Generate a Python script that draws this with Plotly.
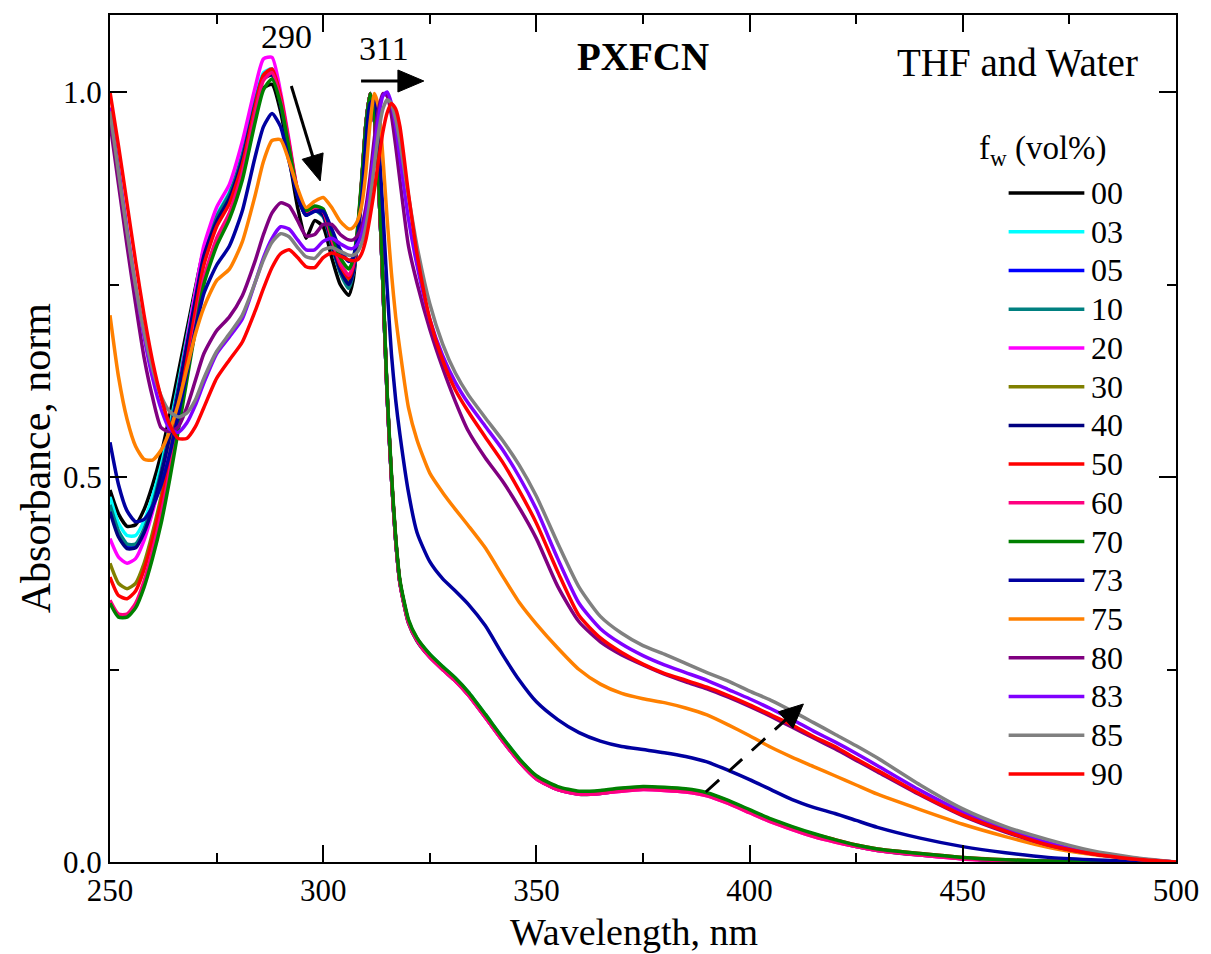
import plotly.graph_objects as go

# ---------------- data ----------------
wavelength = [250, 252, 254, 256, 258, 260, 262, 264, 266, 268, 270, 272, 275, 278, 281, 284, 286, 288,
              290, 292, 294, 296, 298, 300, 302, 304, 306, 307, 308, 309, 310, 311, 312, 313, 314, 315,
              316, 317, 318, 320, 322, 325, 328, 331, 334, 338, 342, 346, 350, 355, 360, 365, 370, 375,
              380, 385, 390, 395, 400, 405, 410, 415, 420, 425, 430, 440, 450, 460, 470, 480, 490, 500]

fw_labels = ["00", "03", "05", "10", "20", "30", "40", "50", "60", "70", "73", "75", "80", "83", "85", "90"]
fw_colors = ["#000000", "#00FFFF", "#0000FF", "#008080", "#FF00FF", "#808000", "#000080", "#FF0000",
             "#FF0080", "#008000", "#0000A0", "#FF8000", "#800080", "#8000FF", "#808080", "#FF0000"]

abs_00 = [0.483, 0.452, 0.436, 0.438, 0.458, 0.490, 0.530, 0.580, 0.635, 0.690, 0.745, 0.795, 0.835, 0.865, 0.910, 0.975, 1.005, 1.010, 0.975, 0.915, 0.850, 0.810, 0.833, 0.825, 0.785, 0.750, 0.736,
          0.755, 0.805, 0.875, 0.955, 0.998, 0.965, 0.880, 0.750, 0.605, 0.500, 0.418, 0.362, 0.310, 0.287, 0.266, 0.250, 0.235, 0.217, 0.188, 0.158, 0.130, 0.108, 0.094, 0.088, 0.089, 0.093, 0.095, 0.094, 0.092, 0.087, 0.077, 0.065, 0.053, 0.043, 0.034, 0.027, 0.020, 0.015, 0.009, 0.005, 0.002, 0.001, 0.0005, 0.0002, 0.0]
abs_03 = [0.474, 0.440, 0.424, 0.424, 0.443, 0.475, 0.515, 0.565, 0.620, 0.680, 0.740, 0.795, 0.840, 0.870, 0.920, 0.990, 1.025, 1.030, 0.990, 0.930, 0.870, 0.842, 0.848, 0.840, 0.805, 0.770, 0.750,
          0.765, 0.810, 0.880, 0.957, 0.998, 0.965, 0.880, 0.750, 0.605, 0.500, 0.418, 0.363, 0.313, 0.290, 0.270, 0.254, 0.239, 0.221, 0.192, 0.162, 0.134, 0.111, 0.097, 0.091, 0.092, 0.095, 0.097, 0.096, 0.094, 0.089, 0.079, 0.067, 0.055, 0.045, 0.036, 0.028, 0.021, 0.016, 0.010, 0.005, 0.002, 0.001, 0.0005, 0.0002, 0.0]
abs_05 = [0.458, 0.425, 0.410, 0.410, 0.430, 0.462, 0.505, 0.555, 0.612, 0.672, 0.733, 0.790, 0.835, 0.865, 0.915, 0.985, 1.020, 1.025, 0.985, 0.925, 0.865, 0.840, 0.847, 0.840, 0.803, 0.768, 0.750,
          0.765, 0.810, 0.880, 0.957, 0.998, 0.965, 0.880, 0.750, 0.605, 0.500, 0.418, 0.363, 0.312, 0.289, 0.268, 0.252, 0.237, 0.219, 0.190, 0.160, 0.132, 0.110, 0.096, 0.090, 0.091, 0.094, 0.096, 0.095, 0.093, 0.088, 0.078, 0.066, 0.054, 0.044, 0.035, 0.028, 0.021, 0.016, 0.010, 0.005, 0.002, 0.001, 0.0005, 0.0002, 0.0]
abs_10 = [0.464, 0.430, 0.413, 0.413, 0.433, 0.465, 0.508, 0.558, 0.615, 0.675, 0.736, 0.792, 0.838, 0.868, 0.918, 0.988, 1.022, 1.027, 0.987, 0.927, 0.867, 0.840, 0.846, 0.838, 0.800, 0.765, 0.745,
          0.763, 0.808, 0.879, 0.957, 0.998, 0.965, 0.880, 0.750, 0.605, 0.500, 0.418, 0.363, 0.312, 0.289, 0.268, 0.252, 0.237, 0.219, 0.190, 0.160, 0.132, 0.110, 0.096, 0.090, 0.091, 0.094, 0.096, 0.095, 0.093, 0.088, 0.078, 0.066, 0.054, 0.044, 0.035, 0.028, 0.021, 0.016, 0.010, 0.005, 0.002, 0.001, 0.0005, 0.0002, 0.0]
abs_20 = [0.420, 0.396, 0.388, 0.394, 0.418, 0.455, 0.500, 0.552, 0.610, 0.675, 0.740, 0.800, 0.850, 0.880, 0.935, 1.005, 1.043, 1.045, 1.000, 0.937, 0.872, 0.845, 0.850, 0.842, 0.805, 0.770, 0.752,
          0.767, 0.811, 0.880, 0.957, 0.998, 0.965, 0.880, 0.750, 0.604, 0.499, 0.417, 0.362, 0.311, 0.288, 0.266, 0.250, 0.235, 0.217, 0.188, 0.158, 0.130, 0.108, 0.094, 0.088, 0.089, 0.092, 0.094, 0.093, 0.091, 0.086, 0.076, 0.064, 0.052, 0.042, 0.033, 0.026, 0.020, 0.015, 0.009, 0.004, 0.002, 0.001, 0.0005, 0.0002, 0.0]
abs_30 = [0.388, 0.362, 0.355, 0.362, 0.388, 0.428, 0.475, 0.530, 0.590, 0.655, 0.720, 0.780, 0.830, 0.860, 0.910, 0.980, 1.018, 1.025, 0.988, 0.928, 0.868, 0.843, 0.848, 0.842, 0.806, 0.772, 0.755,
          0.769, 0.812, 0.881, 0.957, 0.998, 0.965, 0.880, 0.750, 0.605, 0.500, 0.418, 0.363, 0.312, 0.289, 0.268, 0.252, 0.237, 0.219, 0.190, 0.160, 0.132, 0.110, 0.096, 0.090, 0.091, 0.094, 0.096, 0.095, 0.093, 0.088, 0.078, 0.066, 0.054, 0.044, 0.035, 0.028, 0.021, 0.016, 0.010, 0.005, 0.002, 0.001, 0.0005, 0.0002, 0.0]
abs_40 = [0.455, 0.422, 0.407, 0.408, 0.428, 0.460, 0.503, 0.553, 0.610, 0.670, 0.730, 0.787, 0.832, 0.862, 0.912, 0.982, 1.017, 1.022, 0.985, 0.925, 0.865, 0.840, 0.847, 0.840, 0.803, 0.768, 0.750,
          0.765, 0.810, 0.880, 0.957, 0.998, 0.965, 0.880, 0.750, 0.605, 0.500, 0.418, 0.363, 0.312, 0.289, 0.268, 0.252, 0.237, 0.219, 0.190, 0.160, 0.132, 0.110, 0.096, 0.090, 0.091, 0.094, 0.096, 0.095, 0.093, 0.088, 0.078, 0.066, 0.054, 0.044, 0.035, 0.028, 0.021, 0.016, 0.010, 0.005, 0.002, 0.001, 0.0005, 0.0002, 0.0]
abs_50 = [0.370, 0.346, 0.342, 0.352, 0.380, 0.420, 0.468, 0.523, 0.585, 0.650, 0.715, 0.775, 0.825, 0.855, 0.905, 0.980, 1.022, 1.030, 0.995, 0.933, 0.872, 0.845, 0.850, 0.845, 0.808, 0.775, 0.758,
          0.772, 0.815, 0.882, 0.958, 0.998, 0.966, 0.882, 0.752, 0.607, 0.502, 0.420, 0.364, 0.313, 0.290, 0.269, 0.253, 0.238, 0.220, 0.191, 0.161, 0.133, 0.111, 0.097, 0.091, 0.092, 0.095, 0.097, 0.096, 0.094, 0.089, 0.079, 0.067, 0.055, 0.045, 0.036, 0.029, 0.022, 0.017, 0.011, 0.006, 0.003, 0.001, 0.0005, 0.0002, 0.0]
abs_60 = [0.340, 0.322, 0.322, 0.336, 0.365, 0.405, 0.452, 0.507, 0.568, 0.633, 0.698, 0.758, 0.810, 0.843, 0.895, 0.972, 1.015, 1.025, 0.990, 0.930, 0.870, 0.845, 0.850, 0.845, 0.810, 0.778, 0.762,
          0.775, 0.817, 0.883, 0.958, 0.998, 0.966, 0.881, 0.751, 0.605, 0.499, 0.417, 0.362, 0.311, 0.288, 0.266, 0.250, 0.235, 0.217, 0.188, 0.158, 0.130, 0.108, 0.094, 0.088, 0.089, 0.092, 0.094, 0.093, 0.091, 0.086, 0.076, 0.064, 0.052, 0.042, 0.033, 0.026, 0.020, 0.015, 0.009, 0.004, 0.002, 0.001, 0.0005, 0.0002, 0.0]
abs_70 = [0.336, 0.318, 0.318, 0.330, 0.357, 0.395, 0.440, 0.497, 0.560, 0.625, 0.690, 0.750, 0.800, 0.835, 0.885, 0.960, 1.003, 1.017, 0.985, 0.927, 0.870, 0.846, 0.852, 0.848, 0.815, 0.785, 0.770,
          0.782, 0.820, 0.885, 0.958, 0.998, 0.967, 0.884, 0.755, 0.610, 0.505, 0.422, 0.366, 0.315, 0.291, 0.270, 0.254, 0.239, 0.221, 0.192, 0.162, 0.134, 0.112, 0.098, 0.092, 0.093, 0.096, 0.098, 0.097, 0.095, 0.090, 0.080, 0.068, 0.056, 0.046, 0.037, 0.029, 0.022, 0.017, 0.011, 0.006, 0.003, 0.0012, 0.0005, 0.0002, 0.0]
abs_73 = [0.545, 0.490, 0.456, 0.442, 0.445, 0.462, 0.490, 0.530, 0.580, 0.635, 0.690, 0.738, 0.775, 0.800, 0.845, 0.915, 0.955, 0.972, 0.955, 0.910, 0.865, 0.840, 0.845, 0.845, 0.822, 0.795, 0.780,
          0.785, 0.808, 0.860, 0.935, 0.985, 0.990, 0.935, 0.845, 0.745, 0.660, 0.600, 0.555, 0.480, 0.428, 0.390, 0.368, 0.352, 0.335, 0.307, 0.270, 0.236, 0.208, 0.185, 0.168, 0.157, 0.150, 0.146, 0.142, 0.137, 0.130, 0.119, 0.107, 0.094, 0.081, 0.071, 0.063, 0.054, 0.045, 0.031, 0.020, 0.012, 0.006, 0.003, 0.001, 0.0]
abs_75 = [0.710, 0.630, 0.575, 0.540, 0.523, 0.522, 0.535, 0.560, 0.595, 0.640, 0.685, 0.720, 0.755, 0.770, 0.805, 0.865, 0.910, 0.937, 0.938, 0.910, 0.875, 0.850, 0.858, 0.863, 0.850, 0.832, 0.822,
          0.824, 0.832, 0.852, 0.895, 0.960, 0.998, 0.980, 0.915, 0.835, 0.765, 0.708, 0.665, 0.590, 0.548, 0.505, 0.480, 0.458, 0.437, 0.408, 0.372, 0.337, 0.309, 0.278, 0.250, 0.231, 0.219, 0.212, 0.207, 0.200, 0.191, 0.178, 0.164, 0.149, 0.136, 0.124, 0.112, 0.100, 0.088, 0.068, 0.049, 0.033, 0.019, 0.010, 0.004, 0.0]
abs_80 = [0.960, 0.880, 0.800, 0.725, 0.655, 0.603, 0.564, 0.559, 0.565, 0.590, 0.625, 0.660, 0.690, 0.708, 0.735, 0.780, 0.815, 0.843, 0.856, 0.852, 0.833, 0.813, 0.815, 0.828, 0.828, 0.815, 0.808,
          0.808, 0.813, 0.825, 0.850, 0.890, 0.940, 0.978, 0.998, 0.995, 0.970, 0.930, 0.885, 0.800, 0.752, 0.692, 0.642, 0.598, 0.560, 0.525, 0.495, 0.460, 0.420, 0.358, 0.312, 0.286, 0.269, 0.256, 0.244, 0.234, 0.225, 0.214, 0.202, 0.189, 0.175, 0.161, 0.147, 0.132, 0.117, 0.087, 0.060, 0.039, 0.022, 0.011, 0.004, 0.0]
abs_83 = [0.980, 0.900, 0.822, 0.748, 0.682, 0.628, 0.588, 0.562, 0.558, 0.570, 0.593, 0.622, 0.660, 0.682, 0.705, 0.752, 0.785, 0.810, 0.825, 0.822, 0.808, 0.795, 0.795, 0.806, 0.810, 0.803, 0.797,
          0.797, 0.802, 0.815, 0.840, 0.878, 0.925, 0.968, 0.995, 1.000, 0.985, 0.955, 0.915, 0.835, 0.775, 0.705, 0.658, 0.623, 0.596, 0.566, 0.536, 0.500, 0.458, 0.394, 0.336, 0.303, 0.283, 0.268, 0.256, 0.246, 0.236, 0.224, 0.212, 0.199, 0.185, 0.170, 0.156, 0.141, 0.125, 0.093, 0.065, 0.043, 0.025, 0.012, 0.005, 0.0]
abs_85 = [0.975, 0.895, 0.818, 0.748, 0.688, 0.640, 0.605, 0.585, 0.578, 0.583, 0.600, 0.628, 0.663, 0.686, 0.710, 0.752, 0.782, 0.805, 0.816, 0.812, 0.798, 0.786, 0.784, 0.795, 0.798, 0.793, 0.788,
          0.788, 0.792, 0.803, 0.825, 0.860, 0.905, 0.948, 0.978, 0.990, 0.985, 0.965, 0.935, 0.865, 0.800, 0.725, 0.673, 0.635, 0.607, 0.577, 0.548, 0.515, 0.475, 0.414, 0.357, 0.319, 0.297, 0.281, 0.270, 0.258, 0.246, 0.235, 0.222, 0.210, 0.196, 0.181, 0.166, 0.151, 0.135, 0.100, 0.069, 0.046, 0.029, 0.015, 0.006, 0.0]
abs_90 = [1.000, 0.930, 0.855, 0.780, 0.710, 0.650, 0.603, 0.568, 0.550, 0.550, 0.565, 0.590, 0.628, 0.652, 0.675, 0.715, 0.745, 0.772, 0.790, 0.795, 0.785, 0.773, 0.772, 0.785, 0.791, 0.787, 0.782,
          0.781, 0.782, 0.790, 0.808, 0.838, 0.873, 0.912, 0.948, 0.973, 0.985, 0.978, 0.955, 0.868, 0.790, 0.705, 0.652, 0.613, 0.585, 0.552, 0.520, 0.482, 0.440, 0.377, 0.320, 0.291, 0.272, 0.257, 0.245, 0.236, 0.227, 0.216, 0.204, 0.191, 0.178, 0.163, 0.150, 0.134, 0.119, 0.088, 0.061, 0.040, 0.022, 0.011, 0.004, 0.0]

series = [abs_00, abs_03, abs_05, abs_10, abs_20, abs_30, abs_40, abs_50,
          abs_60, abs_70, abs_73, abs_75, abs_80, abs_83, abs_85, abs_90]
for s in series:
    assert len(s) == len(wavelength), len(s)

# ---------------- figure ----------------
FONT = "Liberation Serif, Times New Roman, serif"
L, R, T, B = 110, 31, 15, 92
W, H = 1211, 954
PW, PH = W - L - R, H - T - B
XR = (250.0, 500.0)
YR = (0.0, 1.1)


def px(xp):            # pixel -> paper x
    return (xp - L) / PW


def py(yp):            # pixel -> paper y
    return (H - B - yp) / PH


def dx(xp):            # pixel -> data x
    return XR[0] + (xp - L) / PW * (XR[1] - XR[0])


def dy(yp):            # pixel -> data y
    return YR[0] + (H - B - yp) / PH * (YR[1] - YR[0])


def arrow_shapes(x0, y0, x1, y1, head_len=26, head_half=11, dash=None, width=3):
    """Arrow from pixel (x0,y0) to tip (x1,y1) built from a line and a filled triangle."""
    vx, vy = x1 - x0, y1 - y0
    n = (vx * vx + vy * vy) ** 0.5
    ux, uy = vx / n, vy / n
    bx, by = x1 - ux * head_len, y1 - uy * head_len
    nx, ny = -uy, ux
    line = dict(color="black", width=width)
    if dash:
        line["dash"] = dash
    out = [dict(type="line", xref="x", yref="y", x0=dx(x0), y0=dy(y0),
                x1=dx(bx + ux * 2), y1=dy(by + uy * 2), line=line)]
    p1 = (bx + nx * head_half, by + ny * head_half)
    p2 = (bx - nx * head_half, by - ny * head_half)
    path = "M {:.4f},{:.5f} L {:.4f},{:.5f} L {:.4f},{:.5f} Z".format(
        dx(x1), dy(y1), dx(p1[0]), dy(p1[1]), dx(p2[0]), dy(p2[1]))
    out.append(dict(type="path", xref="x", yref="y", path=path,
                    fillcolor="black", line=dict(color="black", width=1)))
    return out


fig = go.Figure()
for name, color, vals in zip(fw_labels, fw_colors, series):
    fig.add_trace(go.Scatter(x=wavelength, y=vals, mode="lines", name=name,
                             line=dict(color=color, width=3.5, shape="spline", smoothing=0.6),
                             showlegend=False))

shapes = []
annotations = []

# axis titles (placed as text to match the reference position)
annotations += [
    dict(text="Wavelength, nm", x=px(636), y=py(932), xref="paper", yref="paper",
         showarrow=False, xanchor="center", yanchor="middle",
         font=dict(family=FONT, size=38, color="black")),
    dict(text="Absorbance, norm", x=px(36), y=py(458), xref="paper", yref="paper",
         showarrow=False, xanchor="center", yanchor="middle", textangle=-90,
         font=dict(family=FONT, size=42, color="black")),
]

# manual legend
annotations.append(dict(text="f<sub>w</sub> (vol%)", x=px(1047), y=py(150), xref="paper", yref="paper",
                        showarrow=False, xanchor="center", yanchor="middle",
                        font=dict(family=FONT, size=33, color="black")))
for i, (name, color) in enumerate(zip(fw_labels, fw_colors)):
    yc = 193 + i * 38.73
    shapes.append(dict(type="line", xref="paper", yref="paper", x0=px(1012), x1=px(1088),
                       y0=py(yc), y1=py(yc), line=dict(color=color, width=3.5)))
    annotations.append(dict(text=name, x=px(1093), y=py(yc), xref="paper", yref="paper",
                            showarrow=False, xanchor="left", yanchor="middle",
                            font=dict(family=FONT, size=32, color="black")))

# labels
annotations += [
    dict(text="290", x=dx(287), y=dy(36), xref="x", yref="y", showarrow=False,
         font=dict(family=FONT, size=34, color="black")),
    dict(text="311", x=dx(385), y=dy(48), xref="x", yref="y", showarrow=False,
         font=dict(family=FONT, size=34, color="black")),
    dict(text="<b>PXFCN</b>", x=dx(645), y=dy(56), xref="x", yref="y", showarrow=False,
         font=dict(family=FONT, size=39, color="black")),
    dict(text="THF and Water", x=dx(1021), y=dy(62), xref="x", yref="y", showarrow=False,
         font=dict(family=FONT, size=39, color="black")),
]

# arrows
shapes += arrow_shapes(292, 86, 321, 181)
shapes += arrow_shapes(362, 81, 425, 81)
shapes += arrow_shapes(708, 792, 806, 704, head_len=24, head_half=11, dash="18px,13px")

axis_common = dict(showline=True, linecolor="black", linewidth=2, mirror="ticks",
                   ticks="inside", ticklen=17, tickwidth=2, tickcolor="black",
                   showgrid=False, zeroline=False,
                   tickfont=dict(family=FONT, size=31, color="black"))

fig.update_layout(
    width=W, height=H,
    margin=dict(l=L, r=R, t=T, b=B),
    paper_bgcolor="white", plot_bgcolor="white",
    shapes=shapes, annotations=annotations,
    xaxis=dict(range=list(XR), tick0=250, dtick=50,
               minor=dict(dtick=25, ticklen=9, tickwidth=2, ticks="inside", tickcolor="black"),
               **axis_common),
    yaxis=dict(range=list(YR), tick0=0, dtick=0.5, tickformat=".1f",
               minor=dict(dtick=0.25, ticklen=9, tickwidth=2, ticks="inside", tickcolor="black"),
               **axis_common),
)

fig.write_html("out.html")
